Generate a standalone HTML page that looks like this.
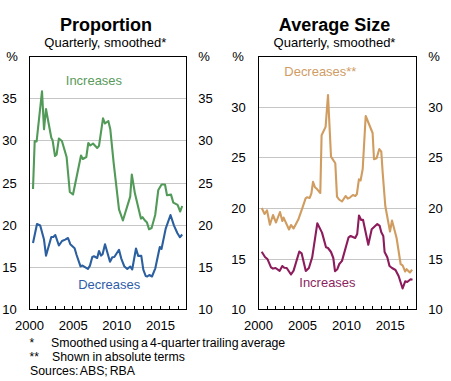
<!DOCTYPE html>
<html><head><meta charset="utf-8"><style>
html,body{margin:0;padding:0;background:#fff;width:451px;height:381px;overflow:hidden}
svg{display:block}
text{font-family:"Liberation Sans", sans-serif}
</style></head><body>
<svg width="451" height="381" viewBox="0 0 451 381">
<rect width="451" height="381" fill="#fff"/>
<g shape-rendering="crispEdges">
<line x1="30" y1="98.5" x2="186" y2="98.5" stroke="#c6c6c6" stroke-width="1"/>
<line x1="30" y1="140.5" x2="186" y2="140.5" stroke="#c6c6c6" stroke-width="1"/>
<line x1="30" y1="183.5" x2="186" y2="183.5" stroke="#c6c6c6" stroke-width="1"/>
<line x1="30" y1="225.5" x2="186" y2="225.5" stroke="#c6c6c6" stroke-width="1"/>
<line x1="30" y1="267.5" x2="186" y2="267.5" stroke="#c6c6c6" stroke-width="1"/>
<line x1="37.5" y1="306" x2="37.5" y2="309" stroke="#000" stroke-width="1"/>
<line x1="46.5" y1="306" x2="46.5" y2="309" stroke="#000" stroke-width="1"/>
<line x1="55.5" y1="306" x2="55.5" y2="309" stroke="#000" stroke-width="1"/>
<line x1="64.5" y1="306" x2="64.5" y2="309" stroke="#000" stroke-width="1"/>
<line x1="72.5" y1="306" x2="72.5" y2="309" stroke="#000" stroke-width="1"/>
<line x1="81.5" y1="306" x2="81.5" y2="309" stroke="#000" stroke-width="1"/>
<line x1="90.5" y1="306" x2="90.5" y2="309" stroke="#000" stroke-width="1"/>
<line x1="99.5" y1="306" x2="99.5" y2="309" stroke="#000" stroke-width="1"/>
<line x1="107.5" y1="306" x2="107.5" y2="309" stroke="#000" stroke-width="1"/>
<line x1="116.5" y1="306" x2="116.5" y2="309" stroke="#000" stroke-width="1"/>
<line x1="125.5" y1="306" x2="125.5" y2="309" stroke="#000" stroke-width="1"/>
<line x1="134.5" y1="306" x2="134.5" y2="309" stroke="#000" stroke-width="1"/>
<line x1="143.5" y1="306" x2="143.5" y2="309" stroke="#000" stroke-width="1"/>
<line x1="151.5" y1="306" x2="151.5" y2="309" stroke="#000" stroke-width="1"/>
<line x1="160.5" y1="306" x2="160.5" y2="309" stroke="#000" stroke-width="1"/>
<line x1="169.5" y1="306" x2="169.5" y2="309" stroke="#000" stroke-width="1"/>
<line x1="178.5" y1="306" x2="178.5" y2="309" stroke="#000" stroke-width="1"/>
<rect x="29.5" y="56.5" width="157" height="253" fill="none" stroke="#000" stroke-width="1"/>
<line x1="259" y1="107.5" x2="416" y2="107.5" stroke="#c6c6c6" stroke-width="1"/>
<line x1="259" y1="157.5" x2="416" y2="157.5" stroke="#c6c6c6" stroke-width="1"/>
<line x1="259" y1="208.5" x2="416" y2="208.5" stroke="#c6c6c6" stroke-width="1"/>
<line x1="259" y1="259.5" x2="416" y2="259.5" stroke="#c6c6c6" stroke-width="1"/>
<line x1="267.5" y1="306" x2="267.5" y2="309" stroke="#000" stroke-width="1"/>
<line x1="275.5" y1="306" x2="275.5" y2="309" stroke="#000" stroke-width="1"/>
<line x1="284.5" y1="306" x2="284.5" y2="309" stroke="#000" stroke-width="1"/>
<line x1="293.5" y1="306" x2="293.5" y2="309" stroke="#000" stroke-width="1"/>
<line x1="302.5" y1="306" x2="302.5" y2="309" stroke="#000" stroke-width="1"/>
<line x1="311.5" y1="306" x2="311.5" y2="309" stroke="#000" stroke-width="1"/>
<line x1="319.5" y1="306" x2="319.5" y2="309" stroke="#000" stroke-width="1"/>
<line x1="328.5" y1="306" x2="328.5" y2="309" stroke="#000" stroke-width="1"/>
<line x1="337.5" y1="306" x2="337.5" y2="309" stroke="#000" stroke-width="1"/>
<line x1="346.5" y1="306" x2="346.5" y2="309" stroke="#000" stroke-width="1"/>
<line x1="355.5" y1="306" x2="355.5" y2="309" stroke="#000" stroke-width="1"/>
<line x1="363.5" y1="306" x2="363.5" y2="309" stroke="#000" stroke-width="1"/>
<line x1="372.5" y1="306" x2="372.5" y2="309" stroke="#000" stroke-width="1"/>
<line x1="381.5" y1="306" x2="381.5" y2="309" stroke="#000" stroke-width="1"/>
<line x1="390.5" y1="306" x2="390.5" y2="309" stroke="#000" stroke-width="1"/>
<line x1="399.5" y1="306" x2="399.5" y2="309" stroke="#000" stroke-width="1"/>
<line x1="407.5" y1="306" x2="407.5" y2="309" stroke="#000" stroke-width="1"/>
<rect x="258.5" y="56.5" width="158" height="253" fill="none" stroke="#000" stroke-width="1"/>
</g>

<polyline points="33.0,189.0 34.7,141.0 36.6,141.5 42.0,91.3 44.0,129.3 46.0,109.0 48.0,120.0 51.3,137.7 52.6,140.3 55.0,156.0 56.6,154.7 58.9,138.5 61.9,141.0 66.6,157.0 69.8,192.0 73.0,194.5 81.0,155.5 82.8,159.0 86.3,157.0 88.3,143.0 90.3,145.5 93.0,143.5 97.2,148.0 99.0,145.9 103.0,118.3 105.0,123.5 108.3,121.0 110.3,129.3 113.6,162.3 119.0,209.3 122.9,220.5 130.2,196.6 131.8,174.5 134.9,193.3 140.9,218.6 142.5,217.2 145.0,220.6 147.0,222.6 149.0,229.3 151.6,228.0 155.2,215.0 158.3,190.0 161.6,184.5 165.0,184.5 167.0,195.3 171.0,194.6 173.3,202.6 177.6,204.9 180.2,211.5 182.2,206.0" fill="none" stroke="#529a58" stroke-width="2.1" stroke-linejoin="round"/>
<polyline points="33.0,243.0 37.0,224.0 40.2,225.5 44.0,239.6 46.0,255.7 51.3,237.0 53.3,237.0 55.3,235.0 58.9,245.5 62.0,241.0 65.2,239.6 68.0,238.0 70.3,244.2 74.6,248.2 76.6,255.0 80.5,266.3 82.5,265.6 87.9,268.9 90.0,265.6 92.3,257.0 94.0,256.3 97.2,258.0 99.0,251.0 101.0,255.6 102.6,254.3 105.0,244.3 110.0,261.7 112.3,257.2 114.3,257.0 119.0,249.8 121.2,258.3 124.2,266.2 127.3,269.0 130.2,266.5 132.2,269.5 136.0,248.5 138.2,255.9 141.3,255.9 143.3,269.6 145.7,276.0 147.3,276.5 149.3,275.0 152.0,276.5 155.3,268.3 159.8,247.0 161.5,249.0 165.7,228.6 170.5,215.0 174.0,225.6 177.3,233.0 179.9,237.2 182.2,234.5" fill="none" stroke="#2b5f9f" stroke-width="2.1" stroke-linejoin="round"/>
<polyline points="261.7,208.0 264.6,214.0 267.0,210.3 269.9,224.8 273.0,215.0 276.0,222.5 280.0,212.0 282.3,221.0 283.6,217.6 289.0,229.5 291.0,225.0 293.6,228.5 298.3,219.6 302.5,207.7 305.6,198.3 307.0,197.3 309.7,198.0 311.4,193.3 313.0,181.8 315.0,187.3 317.2,189.3 320.3,193.0 321.6,135.3 325.6,126.9 328.0,95.0 331.0,156.6 335.3,163.3 337.0,196.6 339.0,199.5 342.0,201.5 345.6,196.0 347.8,198.6 350.2,197.3 352.9,195.0 355.3,196.0 356.9,194.0 358.9,179.3 360.6,180.5 362.7,169.0 365.7,116.0 372.6,133.0 374.0,159.3 376.6,158.3 379.3,149.0 381.3,151.7 382.6,171.6 385.3,206.0 390.0,231.5 392.0,220.5 396.6,238.0 400.6,264.0 402.6,265.3 405.2,271.5 406.6,269.2 408.6,271.2 409.9,272.5 412.1,269.6" fill="none" stroke="#d09c60" stroke-width="2.1" stroke-linejoin="round"/>
<polyline points="261.7,251.7 265.0,257.0 267.6,259.3 271.0,267.3 273.0,268.6 275.6,268.0 279.6,270.9 282.3,266.0 284.3,267.7 286.7,268.0 291.0,274.5 293.6,270.6 299.3,251.5 301.6,253.3 305.8,271.0 308.9,268.0 312.2,257.3 317.3,223.3 322.0,232.6 326.0,247.3 328.0,248.0 331.0,252.0 333.3,258.0 335.0,271.2 337.3,269.2 339.3,264.0 342.0,260.9 348.6,237.3 350.6,236.0 355.2,238.0 357.2,234.0 359.0,215.5 361.2,220.0 363.0,219.8 368.3,244.8 371.7,229.2 377.3,224.0 379.7,225.9 381.3,232.3 383.3,236.0 384.6,252.0 387.3,257.3 389.5,266.0 392.0,268.0 395.5,270.0 398.6,276.0 402.6,288.5 405.2,281.3 407.2,282.0 410.6,279.3 412.5,279.8" fill="none" stroke="#8c1c5c" stroke-width="2.1" stroke-linejoin="round"/>

<text x="106" y="31" font-size="18" text-anchor="middle" font-weight="bold" fill="#000" >Proportion</text>
<text x="105.3" y="47.3" font-size="13" text-anchor="middle" font-weight="normal" fill="#000" >Quarterly, smoothed*</text>
<text x="334.5" y="31" font-size="18" text-anchor="middle" font-weight="bold" fill="#000" >Average Size</text>
<text x="334.5" y="47.3" font-size="13" text-anchor="middle" font-weight="normal" fill="#000" >Quarterly, smoothed*</text>
<text transform="translate(16.8,102.7) scale(0.96,1)" x="0" y="0" font-size="13.6" text-anchor="end">35</text>
<text transform="translate(198.2,102.7) scale(0.96,1)" x="0" y="0" font-size="13.6" text-anchor="start">35</text>
<text transform="translate(16.8,144.7) scale(0.96,1)" x="0" y="0" font-size="13.6" text-anchor="end">30</text>
<text transform="translate(198.2,144.7) scale(0.96,1)" x="0" y="0" font-size="13.6" text-anchor="start">30</text>
<text transform="translate(16.8,187.7) scale(0.96,1)" x="0" y="0" font-size="13.6" text-anchor="end">25</text>
<text transform="translate(198.2,187.7) scale(0.96,1)" x="0" y="0" font-size="13.6" text-anchor="start">25</text>
<text transform="translate(16.8,229.7) scale(0.96,1)" x="0" y="0" font-size="13.6" text-anchor="end">20</text>
<text transform="translate(198.2,229.7) scale(0.96,1)" x="0" y="0" font-size="13.6" text-anchor="start">20</text>
<text transform="translate(16.8,271.7) scale(0.96,1)" x="0" y="0" font-size="13.6" text-anchor="end">15</text>
<text transform="translate(198.2,271.7) scale(0.96,1)" x="0" y="0" font-size="13.6" text-anchor="start">15</text>
<text transform="translate(16.8,313.7) scale(0.96,1)" x="0" y="0" font-size="13.6" text-anchor="end">10</text>
<text transform="translate(198.2,313.7) scale(0.96,1)" x="0" y="0" font-size="13.6" text-anchor="start">10</text>
<text transform="translate(245.8,111.7) scale(0.96,1)" x="0" y="0" font-size="13.6" text-anchor="end">30</text>
<text transform="translate(428.2,111.7) scale(0.96,1)" x="0" y="0" font-size="13.6" text-anchor="start">30</text>
<text transform="translate(245.8,161.7) scale(0.96,1)" x="0" y="0" font-size="13.6" text-anchor="end">25</text>
<text transform="translate(428.2,161.7) scale(0.96,1)" x="0" y="0" font-size="13.6" text-anchor="start">25</text>
<text transform="translate(245.8,212.7) scale(0.96,1)" x="0" y="0" font-size="13.6" text-anchor="end">20</text>
<text transform="translate(428.2,212.7) scale(0.96,1)" x="0" y="0" font-size="13.6" text-anchor="start">20</text>
<text transform="translate(245.8,263.7) scale(0.96,1)" x="0" y="0" font-size="13.6" text-anchor="end">15</text>
<text transform="translate(428.2,263.7) scale(0.96,1)" x="0" y="0" font-size="13.6" text-anchor="start">15</text>
<text transform="translate(245.8,313.7) scale(0.96,1)" x="0" y="0" font-size="13.6" text-anchor="end">10</text>
<text transform="translate(428.2,313.7) scale(0.96,1)" x="0" y="0" font-size="13.6" text-anchor="start">10</text>
<text transform="translate(12,61.2) scale(0.96,1)" x="0" y="0" font-size="13.6" text-anchor="middle">%</text>
<text transform="translate(204,61.2) scale(0.96,1)" x="0" y="0" font-size="13.6" text-anchor="middle">%</text>
<text transform="translate(238,61.2) scale(0.96,1)" x="0" y="0" font-size="13.6" text-anchor="middle">%</text>
<text transform="translate(434,61.2) scale(0.96,1)" x="0" y="0" font-size="13.6" text-anchor="middle">%</text>
<text transform="translate(29.6,330) scale(0.96,1)" x="0" y="0" font-size="13.6" text-anchor="middle">2000</text>
<text transform="translate(258.6,330) scale(0.96,1)" x="0" y="0" font-size="13.6" text-anchor="middle">2000</text>
<text transform="translate(73.2,330) scale(0.96,1)" x="0" y="0" font-size="13.6" text-anchor="middle">2005</text>
<text transform="translate(302.5,330) scale(0.96,1)" x="0" y="0" font-size="13.6" text-anchor="middle">2005</text>
<text transform="translate(116.8,330) scale(0.96,1)" x="0" y="0" font-size="13.6" text-anchor="middle">2010</text>
<text transform="translate(346.4,330) scale(0.96,1)" x="0" y="0" font-size="13.6" text-anchor="middle">2010</text>
<text transform="translate(160.4,330) scale(0.96,1)" x="0" y="0" font-size="13.6" text-anchor="middle">2015</text>
<text transform="translate(390.3,330) scale(0.96,1)" x="0" y="0" font-size="13.6" text-anchor="middle">2015</text>
<text transform="translate(65.8,85) scale(0.955,1)" x="0" y="0" font-size="13.6" fill="#5a9a5c">Increases</text>
<text transform="translate(78.2,288.9) scale(0.955,1)" x="0" y="0" font-size="13.6" fill="#2e5ca8">Decreases</text>
<text transform="translate(284.3,76) scale(0.955,1)" x="0" y="0" font-size="13.6" fill="#d09c64">Decreases**</text>
<text transform="translate(299.3,286.7) scale(0.955,1)" x="0" y="0" font-size="13.6" fill="#8c1f5e">Increases</text>
<text x="29.5" y="347" font-size="12" text-anchor="start" font-weight="normal" fill="#000" >*</text>
<text x="51" y="347" font-size="12.3" text-anchor="start" font-weight="normal" fill="#000" word-spacing="-1.15">Smoothed using a 4-quarter trailing average</text>
<text x="29.5" y="361" font-size="12" text-anchor="start" font-weight="normal" fill="#000" >**</text>
<text x="52" y="361" font-size="12.3" text-anchor="start" font-weight="normal" fill="#000" word-spacing="-0.6">Shown in absolute terms</text>
<text x="30" y="375" font-size="12.3" text-anchor="start" font-weight="normal" fill="#000" word-spacing="-1.5">Sources: ABS; RBA</text>
</svg>
</body></html>
